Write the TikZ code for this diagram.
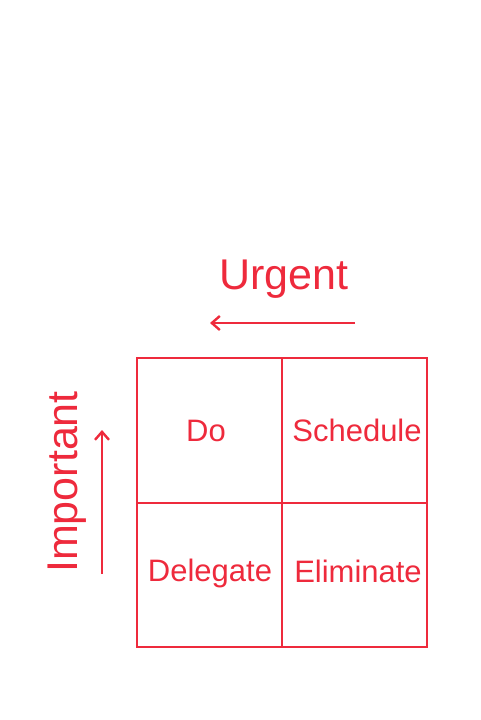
\documentclass[tikz,border=0pt]{standalone}
\usepackage{fontspec}
\setmainfont{Liberation Sans}
\usetikzlibrary{arrows.meta}
\definecolor{marker_red}{HTML}{EE2A3C}

\begin{document}
\begin{tikzpicture}[x=1pt, y=-1pt, line width=1.8pt, draw=marker_red, text=marker_red,
    quadlabel/.style={font=\fontsize{31}{33}\selectfont},
    axislabel/.style={font=\fontsize{43}{45}\selectfont}]
   \useasboundingbox (0, 0) rectangle (480, 720);
   % corners of the matrix
   \coordinate (tl) at (137, 358);
   \coordinate (tr) at (427, 358);
   \coordinate (bl) at (137, 647);
   \coordinate (br) at (427, 647);
   \coordinate (ml) at (137, 503);
   \coordinate (mr) at (427, 503);
   \coordinate (mt) at (282, 358);
   \coordinate (mb) at (282, 647);
   % draw grid
   \draw [marker_red] (tl) -- (tr) -- (br) -- (bl) -- cycle;
   \draw [marker_red] (ml) -- (mr);
   \draw [marker_red] (mt) -- (mb);
   % quadrant labels
   \node [quadlabel] (do) at (206, 431) {Do};
   \node [quadlabel] (schedule) at (357, 430) {Schedule};
   \node [quadlabel] (delegate) at (210, 573) {Delegate};
   \node [quadlabel] (eliminate) at (358, 571) {Eliminate};
   % urgent axis
   \node [axislabel] (urgent) at (284, 279) {Urgent};
   \coordinate (urgentstart) at (355, 323);
   \coordinate (urgentend) at (210, 323);
   \draw [marker_red, line width=2.4pt, -{Straight Barb[length=8pt, width=14pt]}] (urgentstart) -- (urgentend);
   % important axis
   \node [axislabel, rotate=90] (important) at (67, 482) {Important};
   \coordinate (importantstart) at (102, 574);
   \coordinate (importantend) at (102, 430);
   \draw [marker_red, line width=2.4pt, -{Straight Barb[length=8pt, width=14pt]}] (importantstart) -- (importantend);
\end{tikzpicture}
\end{document}
